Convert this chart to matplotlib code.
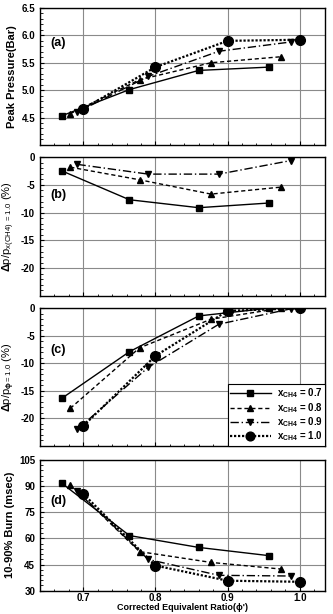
import numpy as np
import matplotlib
matplotlib.use('Agg')
import matplotlib.pyplot as plt
from matplotlib.ticker import MultipleLocator

plt.rcParams['font.family'] = ['Liberation Sans', 'DejaVu Sans']
plt.rcParams['font.weight'] = 'bold'
plt.rcParams['mathtext.fontset'] = 'custom'
plt.rcParams['mathtext.rm'] = 'Liberation Sans:bold'
plt.rcParams['mathtext.it'] = 'Liberation Sans:bold'
plt.rcParams['mathtext.bf'] = 'Liberation Sans:bold'

labels = ['0.7', '0.8', '0.9', '1.0']

# corrected equivalence ratio for each CH4 fraction
phi_07 = [0.670, 0.764, 0.860, 0.957]
phi_08 = [0.682, 0.778, 0.877, 0.974]
phi_09 = [0.692, 0.790, 0.888, 0.988]
phi_10 = [0.700, 0.800, 0.900, 1.000]

# (a) peak pressure (bar)
pp_07 = [4.53, 5.01, 5.36, 5.42]
pp_08 = [4.57, 5.19, 5.50, 5.61]
pp_09 = [4.60, 5.25, 5.71, 5.88]
pp_10 = [4.66, 5.42, 5.90, 5.92]

# (b) dp/p relative to x_CH4 = 1.0 (%)
db_07 = [-2.45, -7.67, -9.1, -8.26]
db_08 = [-1.8, -4.07, -6.65, -5.39]
db_09 = [-1.3, -3.05, -3.05, -0.6]

# (c) dp/p relative to phi = 1.0 (%)
dc_07 = [-16.4, -7.9, -1.4, 0.0]
dc_08 = [-18.2, -7.2, -2.0, 0.0]
dc_09 = [-22.0, -10.75, -2.9, -0.1]
dc_10 = [-21.4, -8.66, -0.48, 0.0]

# (d) 10-90% burn duration (msec)
bd_07 = [91.7, 61.6, 54.8, 50.1]
bd_08 = [90.8, 52.4, 46.2, 42.4]
bd_09 = [87.1, 47.9, 38.8, 38.4]
bd_10 = [85.5, 44.4, 35.7, 35.1]

phis = [phi_07, phi_08, phi_09, phi_10]
styles = [dict(ls='-', marker='s', ms=5, lw=1.0),
          dict(ls=(0, (3, 2)), marker='^', ms=5, lw=1.0),
          dict(ls=(0, (6, 2, 1, 2)), marker='v', ms=5, lw=1.0),
          dict(ls=(0, (1, 0.8)), marker='o', ms=7, lw=1.6)]

fig = plt.figure(figsize=(3.33, 6.14), dpi=100)
L, W = 0.120, 0.856
boxes = [(0.764, 0.223), (0.518, 0.226), (0.274, 0.224), (0.038, 0.213)]
axes = [fig.add_axes([L, b, W, h]) for b, h in boxes]

def setup(ax, ylim, major, minor, ticks):
    ax.set_xlim(0.64, 1.035)
    ax.set_ylim(*ylim)
    ax.xaxis.set_major_locator(MultipleLocator(0.1))
    ax.xaxis.set_minor_locator(MultipleLocator(0.02))
    ax.yaxis.set_major_locator(MultipleLocator(major))
    ax.yaxis.set_minor_locator(MultipleLocator(minor))
    ax.set_yticks(ticks)
    ax.grid(True, which='major', color='#8a8a8a', lw=0.8)
    ax.tick_params(which='both', direction='in', labelsize=7)
    ax.tick_params(which='major', length=3)
    ax.tick_params(which='minor', length=1.8)
    for s in ax.spines.values():
        s.set_linewidth(1.0)

# (a)
ax = axes[0]
for x, y, st in zip(phis, [pp_07, pp_08, pp_09, pp_10], styles):
    ax.plot(x, y, color='black', **st)
setup(ax, (4.0, 6.5), 0.5, 0.1, [4.5, 5.0, 5.5, 6.0, 6.5])
ax.set_yticklabels(['4.5', '5.0', '5.5', '6.0', '6.5'])
ax.set_ylabel('Peak Pressure(Bar)', fontsize=8, fontweight='bold', labelpad=3)
ax.text(0.035, 0.745, '(a)', transform=ax.transAxes, fontsize=9, fontweight='bold', va='center')

# (b)
ax = axes[1]
for x, y, st in zip(phis[:3], [db_07, db_08, db_09], styles[:3]):
    ax.plot(x, y, color='black', **st)
setup(ax, (-25, 0), 5, 1, [0, -5, -10, -15, -20])
ax.set_yticklabels(['0', '-5', '-10', '-15', '-20'])
ax.set_ylabel(r'$\Delta$p/p$_{\mathregular{x(CH4)\ =1.0}}$ (%)', fontsize=8, labelpad=3)
ax.text(0.035, 0.727, '(b)', transform=ax.transAxes, fontsize=9, fontweight='bold', va='center')

# (c)
ax = axes[2]
for x, y, st, lab in zip(phis, [dc_07, dc_08, dc_09, dc_10], styles, labels):
    ax.plot(x, y, color='black', label=r'x$_{\mathregular{CH4}}$ = ' + lab, **st)
setup(ax, (-25, 0), 5, 1, [0, -5, -10, -15, -20])
ax.set_yticklabels(['0', '-5', '-10', '-15', '-20'])
ax.set_ylabel(r'$\Delta$p/p$_{\phi\mathregular{=1.0}}$ (%)', fontsize=8, labelpad=3)
ax.text(0.035, 0.696, '(c)', transform=ax.transAxes, fontsize=9, fontweight='bold', va='center')
leg = ax.legend(loc='lower right', fontsize=7, handlelength=4.2, borderaxespad=0.0,
                frameon=True, fancybox=False, edgecolor='black', framealpha=1,
                labelspacing=0.05, borderpad=0.25, handletextpad=0.6, markerscale=0.9)
leg.get_frame().set_linewidth(0.8)

# (d)
ax = axes[3]
for x, y, st in zip(phis, [bd_07, bd_08, bd_09, bd_10], styles):
    ax.plot(x, y, color='black', **st)
setup(ax, (30, 105), 15, 3, [30, 45, 60, 75, 90, 105])
ax.set_yticklabels(['30', '45', '60', '75', '90', '105'])
ax.set_xticks([0.7, 0.8, 0.9, 1.0])
ax.set_xticklabels(['0.7', '0.8', '0.9', '1.0'])
ax.tick_params(axis='x', pad=1.5)
ax.set_ylabel('10-90% Burn (msec)', fontsize=8, fontweight='bold', labelpad=3)
ax.text(0.035, 0.684, '(d)', transform=ax.transAxes, fontsize=9, fontweight='bold', va='center')
ax.set_xlabel("Corrected Equivalent Ratio(\u03d5')", fontsize=6.5, fontweight='bold', labelpad=0)

for ax in axes[:3]:
    ax.set_xticks([0.7, 0.8, 0.9, 1.0])
    ax.tick_params(labelbottom=False)

fig.savefig('out.png', dpi=100)
